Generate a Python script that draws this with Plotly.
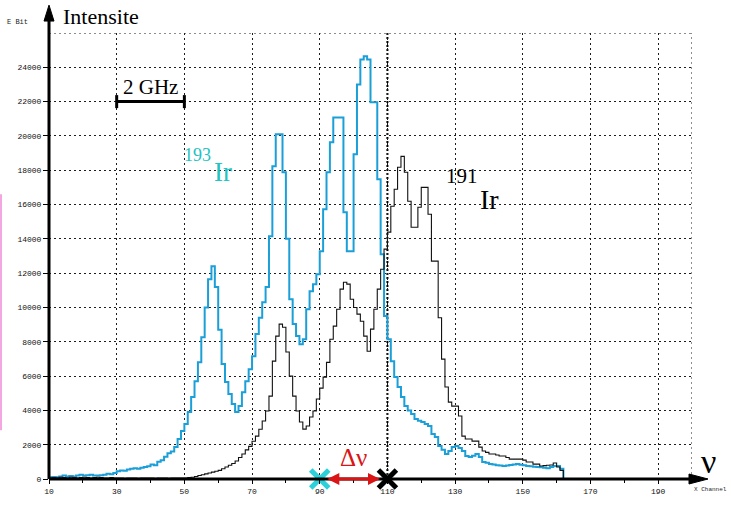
import plotly.graph_objects as go

# Channel bin edges: each value below fills [c, c+1)
channels = list(range(10, 163))

# 193Ir counts per channel (channels 10 .. 161)
ir193 = [
    100, 120, 100, 150, 200, 150, 180, 150, 200, 250,
    200, 220, 250, 200, 200, 220, 250, 300, 280, 350,
    450, 500, 480, 550, 600, 620, 600, 650, 700, 750,
    850, 800, 1000, 1100, 1300, 1500, 1600, 1860, 2330, 2800,
    3200, 3900, 4780, 5700, 6800, 8270, 10000, 11650, 12400, 11200,
    8700, 6700, 5650, 4950, 4370, 3900, 4250, 5060, 5700, 6400,
    7150, 8450, 9400, 10300, 11200, 14150, 18230, 20100, 20100, 17880,
    14000, 10480, 9030, 8330, 7860, 8150, 9900, 10950, 11350, 11940,
    13280, 15720, 17880, 19630, 21080, 21080, 21080, 15550, 13280, 13280,
    18930, 23000, 24460, 24640, 24460, 21960, 21960, 17470, 13100, 9500,
    8150, 6870, 5940, 5360, 4780, 4250, 4000, 3790, 3500, 3400,
    3320, 3200, 3090, 2620, 2450, 1920, 1700, 1460, 1630, 1860,
    1920, 1800, 1630, 1340, 1280, 1350, 1460, 1280, 990, 950,
    870, 850, 800, 780, 760, 780, 820, 850, 870, 830,
    800, 760, 740, 720, 700, 680, 650, 620, 700, 760,
    760, 600,
]

# 191Ir counts per channel (channels 10 .. 161)
ir191 = [
    60, 80, 50, 100, 80, 60, 100, 80, 60, 80,
    100, 80, 60, 80, 100, 80, 60, 50, 80, 60,
    60, 50, 40, 50, 60, 50, 40, 50, 60, 50,
    50, 40, 50, 60, 50, 40, 50, 60, 50, 60,
    60, 80, 100, 150, 200, 250, 300, 350, 400, 450,
    500, 600, 700, 800, 900, 1050, 1250, 1460, 1700, 1900,
    2200, 2500, 2900, 3380, 3960, 4830, 6870, 8330, 9030, 8850,
    7400, 6000, 4830, 3960, 3320, 2910, 3090, 3610, 3960, 4660,
    5300, 5940, 6800, 8150, 8910, 9900, 11070, 11470, 11360, 10480,
    10000, 9610, 9200, 8330, 7450, 8740, 9900, 11070, 12230, 13400,
    14390, 15900, 16890, 18170, 18810, 17880, 16190, 14680, 14680, 15840,
    17000, 17000, 15430, 12700, 12700, 9400, 6990, 5360, 4480, 4250,
    4250, 3670, 2500, 2330, 2330, 2210, 2210, 1860, 1630, 1550,
    1460, 1460, 1400, 1340, 1340, 1250, 1160, 1160, 1160, 1160,
    1100, 990, 990, 870, 870, 760, 780, 800, 820, 930,
    700, 500,
]

x_ticks = [10, 30, 50, 70, 90, 110, 130, 150, 170, 190]
x_minor = [20, 40, 60, 80, 100, 120, 140, 160, 180]
y_ticks = [0, 2000, 4000, 6000, 8000, 10000, 12000, 14000, 16000,
           18000, 20000, 22000, 24000]

# Line positions of the two isotope markers and the 2 GHz scale
marker_193 = 90
marker_191 = 110
scale_start, scale_end, scale_level = 30, 50, 22000

X_MIN, X_MAX = 10, 200
Y_MAX = 26000

W, H = 731, 508
ML, MR, MT, MB = 49, 39, 33, 27
PW, PH = W - ML - MR, H - MT - MB


def fx(px):
    """page pixel column -> paper x"""
    return (px - ML) / PW


def fy(py):
    """page pixel row -> paper y"""
    return (H - MB - py) / PH


CYAN_LINE = "#1b9fd8"
CYAN_TEXT = "#22c3c0"
CYAN_MARK = "#2bd0d8"
RED = "#d91515"
GRID = "#1c1c1c"
DOTS = "2px,3px"

fig = go.Figure()

fig.add_trace(go.Scatter(
    x=channels, y=ir193 + [0], mode="lines", line_shape="hv",
    line=dict(color=CYAN_LINE, width=2), name="193Ir", showlegend=False,
    hoverinfo="skip"))
fig.add_trace(go.Scatter(
    x=channels, y=ir191 + [0], mode="lines", line_shape="hv",
    line=dict(color="#111111", width=1.1), name="191Ir", showlegend=False,
    hoverinfo="skip"))

# isotope position crosses on the channel axis
fig.add_trace(go.Scatter(
    x=[marker_193], y=[0], mode="markers", cliponaxis=False,
    marker=dict(symbol="x-thin", size=18,
                line=dict(width=5, color=CYAN_MARK)),
    showlegend=False, hoverinfo="skip"))
fig.add_trace(go.Scatter(
    x=[marker_191], y=[0], mode="markers", cliponaxis=False,
    marker=dict(symbol="x-thin", size=18,
                line=dict(width=5, color="#000000")),
    showlegend=False, hoverinfo="skip"))

shapes = []
# right and top border of the grid
shapes.append(dict(type="line", xref="x", yref="y", x0=X_MAX, x1=X_MAX,
                   y0=0, y1=Y_MAX, layer="below",
                   line=dict(color=GRID, width=1, dash=DOTS)))
shapes.append(dict(type="line", xref="x", yref="y", x0=X_MIN, x1=X_MAX,
                   y0=Y_MAX, y1=Y_MAX, layer="below",
                   line=dict(color=GRID, width=1, dash=DOTS)))
# heavier dotted guide at the 191Ir position
shapes.append(dict(type="line", xref="x", yref="y", x0=marker_191,
                   x1=marker_191, y0=0, y1=Y_MAX, layer="below",
                   line=dict(color="#000000", width=2, dash="2px,2px")))
# 2 GHz scale bar
shapes.append(dict(type="line", xref="x", yref="y", x0=scale_start,
                   x1=scale_end, y0=scale_level, y1=scale_level,
                   line=dict(color="#000000", width=3)))
for xc in (scale_start, scale_end):
    shapes.append(dict(type="line", xref="x", yref="y", x0=xc, x1=xc,
                       y0=scale_level - 380, y1=scale_level + 380,
                       line=dict(color="#000000", width=3)))
# thick axes with arrow heads
shapes.append(dict(type="line", xref="paper", yref="paper", x0=0, x1=0,
                   y0=0, y1=fy(18), line=dict(color="#000000", width=3)))
shapes.append(dict(type="path", xref="paper", yref="paper",
                   path=f"M {fx(44)} {fy(21)} L {fx(49)} {fy(5)} "
                        f"L {fx(54)} {fy(21)} Z",
                   fillcolor="#000000", line=dict(color="#000000", width=1)))
shapes.append(dict(type="line", xref="paper", yref="paper", x0=0,
                   x1=fx(692), y0=0, y1=0,
                   line=dict(color="#000000", width=3)))
shapes.append(dict(type="path", xref="paper", yref="paper",
                   path=f"M {fx(689)} {fy(476)} L {fx(708)} {fy(481)} "
                        f"L {fx(689)} {fy(486)} Z",
                   fillcolor="#000000", line=dict(color="#000000", width=1)))
# thin pink strip along the left edge
shapes.append(dict(type="rect", xref="paper", yref="paper",
                   x0=fx(0), x1=fx(2), y0=fy(432), y1=fy(195),
                   fillcolor="#f2a6e2", line=dict(width=0)))

serif = "Liberation Serif"
mono = "Liberation Mono"

annotations = [
    dict(text="Intensite", xref="paper", yref="paper", x=fx(61), y=fy(16),
         xanchor="left", yanchor="middle", showarrow=False,
         font=dict(family=serif, size=22, color="#000000")),
    dict(text="E Bit", xref="paper", yref="paper", x=fx(5), y=fy(22),
         xanchor="left", yanchor="middle", showarrow=False,
         font=dict(family=mono, size=7, color="#222222")),
    dict(text="X Channel", xref="paper", yref="paper", x=fx(692), y=fy(492),
         xanchor="left", yanchor="middle", showarrow=False,
         font=dict(family=mono, size=6, color="#222222")),
    dict(text="ν", xref="paper", yref="paper", x=fx(708), y=fy(463),
         xanchor="center", yanchor="middle", showarrow=False,
         font=dict(family=serif, size=34, color="#000000")),
    dict(text="2 GHz", xref="x", yref="y",
         x=(scale_start + scale_end) / 2, y=scale_level,
         xanchor="center", yanchor="bottom", yshift=1, showarrow=False,
         font=dict(family=serif, size=21, color="#000000")),
    dict(text="193", xref="paper", yref="paper", x=fx(182), y=fy(156),
         xanchor="left", yanchor="middle", showarrow=False,
         font=dict(family=serif, size=18, color=CYAN_TEXT)),
    dict(text="Ir", xref="paper", yref="paper", x=fx(212), y=fy(173),
         xanchor="left", yanchor="middle", showarrow=False,
         font=dict(family=serif, size=27, color=CYAN_TEXT)),
    dict(text="191", xref="paper", yref="paper", x=fx(444), y=fy(177),
         xanchor="left", yanchor="middle", showarrow=False,
         font=dict(family=serif, size=21, color="#000000")),
    dict(text="Ir", xref="paper", yref="paper", x=fx(478), y=fy(200),
         xanchor="left", yanchor="middle", showarrow=False,
         font=dict(family=serif, size=28, color="#000000")),
    dict(text="Δν", xref="paper", yref="paper", x=fx(353), y=fy(459),
         xanchor="center", yanchor="middle", showarrow=False,
         font=dict(family=serif, size=25, color=RED)),
    # double-headed arrow for the isotope shift
    dict(text="", xref="x", yref="y", x=marker_191 - 2.2, y=0,
         axref="x", ayref="y", ax=marker_193 + 1.8, ay=0,
         showarrow=True, arrowside="end+start", arrowhead=2,
         arrowsize=0.8, arrowwidth=3, arrowcolor=RED),
]

fig.update_layout(
    width=W, height=H,
    margin=dict(l=ML, r=MR, t=MT, b=MB, pad=0),
    paper_bgcolor="#ffffff", plot_bgcolor="#ffffff",
    shapes=shapes, annotations=annotations, showlegend=False,
    xaxis=dict(
        range=[X_MIN, X_MAX], tickmode="array", tickvals=x_ticks,
        ticktext=[str(v) for v in x_ticks], ticks="outside", ticklen=4,
        tickcolor="#000000", tickwidth=1,
        tickfont=dict(family=mono, size=8, color="#111111"),
        showgrid=True, gridcolor=GRID, gridwidth=1, griddash=DOTS,
        zeroline=False, showline=False,
        minor=dict(tickvals=x_minor, ticks="outside", ticklen=3,
                   tickcolor="#000000", showgrid=False),
    ),
    yaxis=dict(
        range=[0, Y_MAX], tickmode="array", tickvals=y_ticks,
        ticktext=[str(v) for v in y_ticks], ticks="outside", ticklen=5,
        tickcolor="#000000", tickwidth=1,
        tickfont=dict(family=mono, size=8, color="#111111"),
        showgrid=True, gridcolor=GRID, gridwidth=1, griddash=DOTS,
        zeroline=False, showline=False,
    ),
)

fig.write_html("out.html")
